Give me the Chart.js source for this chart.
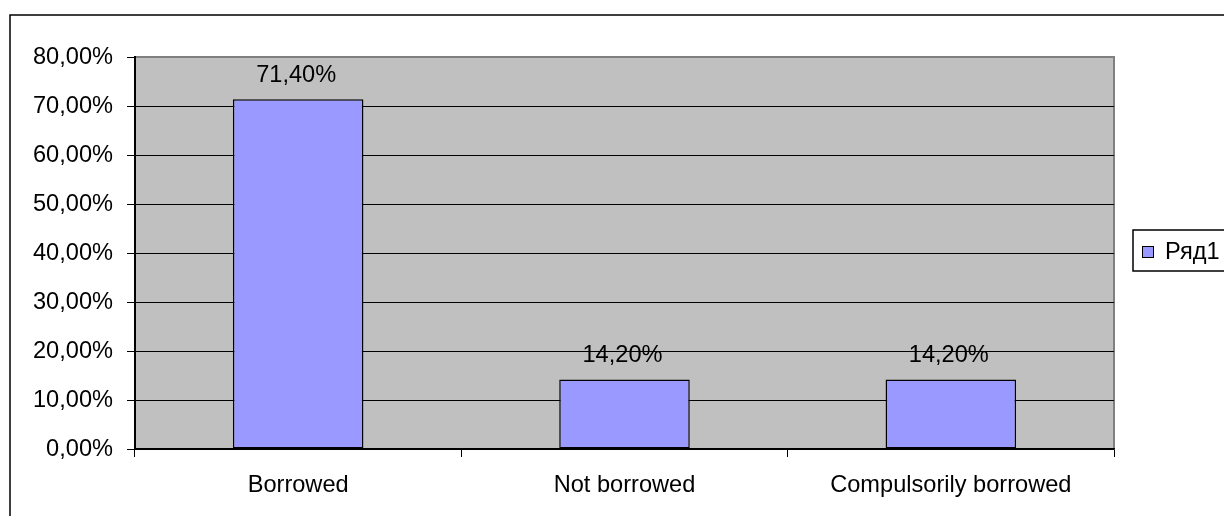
<!DOCTYPE html>
<html>
<head>
<meta charset="utf-8">
<script src="https://cdn.jsdelivr.net/npm/chart.js@4/dist/chart.umd.min.js"></script>
<style>
  html, body { margin:0; padding:0; background:#fff; }
  #wrap { width:1224px; height:516px; position:relative; }
</style>
</head>
<body>
<div id="wrap"><canvas id="c"></canvas></div>
<script>
// answers per category, as fractions
const categories = ['Borrowed', 'Not borrowed', 'Compulsorily borrowed'];
const seriesName = 'Ряд1';
const values = [0.714, 0.142, 0.142];
const yTicks = [0, 0.1, 0.2, 0.3, 0.4, 0.5, 0.6, 0.7, 0.8];

const FONT = 'Arial, "Liberation Sans", sans-serif';
const FS = 23.6;
const BAR = '#9999FF';
const pct = v => (v*100).toFixed(2).replace('.', ',') + '%';

// gray plot background + thin frame round the whole chart
const frame = {
  id:'frame',
  beforeDraw(chart){
    const {ctx, chartArea:a} = chart;
    ctx.save();
    ctx.fillStyle = '#fff';
    ctx.fillRect(0, 0, chart.width, chart.height);
    ctx.strokeStyle = '#000'; ctx.lineWidth = 1.5;
    ctx.strokeRect(10, 15, 1400, 700);
    ctx.fillStyle = '#C0C0C0';
    ctx.fillRect(a.left, a.top, a.right-a.left, a.bottom-a.top);
    ctx.strokeStyle = '#808080'; ctx.lineWidth = 2;
    ctx.beginPath();
    ctx.moveTo(a.left, a.top); ctx.lineTo(a.right, a.top); ctx.lineTo(a.right, a.bottom);
    ctx.stroke();
    ctx.restore();
  },
  afterDatasetsDraw(chart){
    // value labels over the bars
    const {ctx} = chart;
    const meta = chart.getDatasetMeta(0);
    ctx.save();
    ctx.font = FS + 'px ' + FONT;
    ctx.fillStyle = '#000';
    ctx.textAlign = 'center'; ctx.textBaseline = 'alphabetic';
    meta.data.forEach((bar, i) => {
      ctx.fillText(pct(values[i]), bar.x - 2, bar.y - 17);
    });
    // legend box on the right
    ctx.strokeStyle = '#000'; ctx.lineWidth = 1.5;
    ctx.strokeRect(1133, 230, 120, 41);
    ctx.fillStyle = BAR;
    ctx.fillRect(1142, 246, 11, 11);
    ctx.strokeStyle = '#000'; ctx.lineWidth = 1;
    ctx.strokeRect(1142.5, 246.5, 11, 11);
    ctx.fillStyle = '#000';
    ctx.textAlign = 'left';
    ctx.fillText(chart.data.datasets[0].label, 1165, 259);
    ctx.restore();
  }
};

new Chart(document.getElementById('c'), {
  type:'bar',
  data:{
    labels: categories,
    datasets:[{
      label: seriesName,
      data: values,
      backgroundColor: BAR,
      borderColor: '#000',
      borderWidth: 1.5,
      borderSkipped: false,
      barPercentage: 0.4,
      categoryPercentage: 1
    }]
  },
  options:{
    responsive:true,
    maintainAspectRatio:false,
    animation:false,
    layout:{ padding:{ left:0, top:57, right:110, bottom:0 } },
    plugins:{ legend:{ display:false }, tooltip:{ enabled:false } },
    scales:{
      x:{
        grid:{ offset:true, drawOnChartArea:false, drawTicks:true, tickLength:8, color:'#000', tickColor:'#000' },
        border:{ color:'#000', width:1.5 },
        ticks:{ color:'#000', font:{ family:FONT, size:FS }, padding:14, maxRotation:0 },
        afterFit(s){ s.height = 67; }
      },
      y:{
        min:0, max:0.8,
        afterBuildTicks(s){ s.ticks = yTicks.map(v => ({value:v})); },
        grid:{
          color: c => c.tick && c.tick.value >= 0.8 ? 'rgba(0,0,0,0)' : '#000',
          tickColor:'#000', lineWidth:1, tickLength:8
        },
        border:{ color:'#000', width:2 },
        ticks:{ color:'#000', font:{ family:FONT, size:FS }, padding:14, callback: v => pct(v) },
        afterFit(s){ s.width = 135; }
      }
    }
  },
  plugins:[frame]
});
</script>
</body>
</html>
